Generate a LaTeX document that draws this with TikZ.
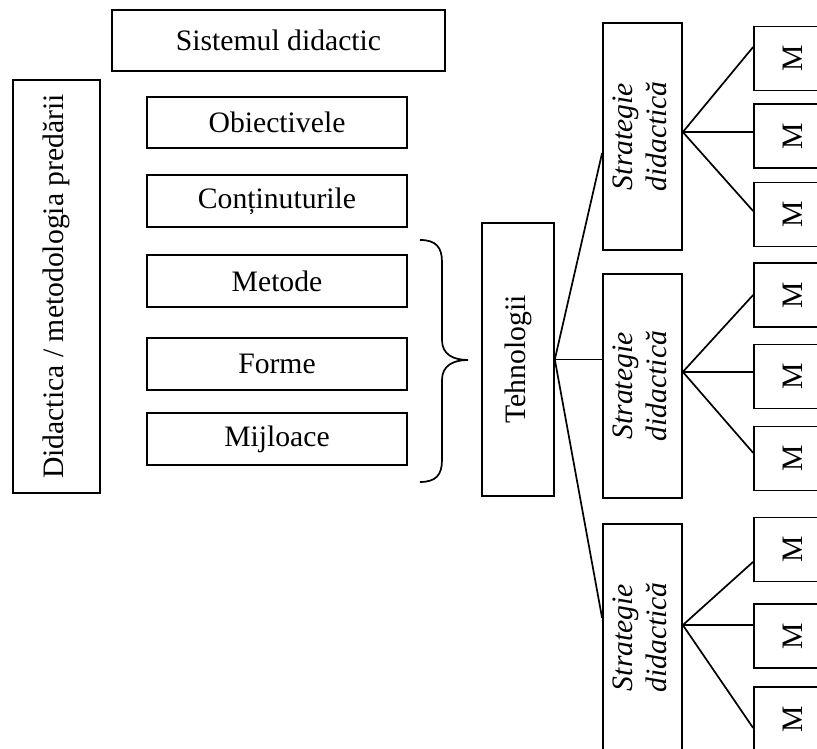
\documentclass[tikz,border=0pt]{standalone}
\usepackage{fontspec}
\setmainfont{Liberation Serif}
\usepackage{tikz}
\newcommand{\vtext}[1]{\rotatebox{90}{#1}}
\newcommand{\vstrat}{\rotatebox{90}{\itshape\begin{tabular}{@{}c@{}}Strategie\\didactică\end{tabular}}}

\begin{document}
\begin{tikzpicture}[font=\fontsize{12.2}{14}\selectfont,
		box/.style={draw, line width=0.7pt, inner sep=0pt, minimum width=3.757cm, minimum height=0.745cm},
		vbox/.style={draw, line width=0.7pt, inner sep=0pt},
		mbox/.style={draw, line width=0.7pt, inner sep=0pt, minimum width=1.127cm, minimum height=0.925cm},
		link/.style={line width=0.7pt}]
			\useasboundingbox (0,0) rectangle (11.806,10.823);
			\node[vbox, minimum width=4.812cm, minimum height=0.881cm] (sist) at (4.024,10.238) {Sistemul didactic};
			\node[vbox, minimum width=1.257cm, minimum height=5.968cm] (did) at (0.816,6.683) {\vtext{Didactica / metodologia predării}};
			\node[box] (obi) at (4.003,9.053) {Obiectivele};
			\node[box] (cont) at (4.003,7.919) {Conținuturile};
			\node[box] (met) at (4.003,6.763) {Metode};
			\node[box] (form) at (4.003,5.563) {Forme};
			\node[box] (mij) at (4.003,4.480) {Mijloace};
			\draw[link] (6.069,7.355) .. controls (6.30,7.355) and (6.387,7.25) .. (6.387,7.037) -- (6.387,5.910) .. controls (6.387,5.70) and (6.55,5.621) .. (6.763,5.621) .. controls (6.55,5.621) and (6.387,5.54) .. (6.387,5.332) -- (6.387,4.176) .. controls (6.387,3.96) and (6.30,3.858) .. (6.069,3.858);
			\node[vbox, minimum width=1.040cm, minimum height=3.945cm] (teh) at (7.485,5.628) {\vtext{Tehnologii}};
			\node[vbox, minimum width=1.142cm, minimum height=3.28cm] (s1) at (9.284,8.851) {\vstrat};
			\node[vbox, minimum width=1.142cm, minimum height=3.237cm] (s2) at (9.284,5.245) {\vstrat};
			\node[vbox, minimum width=1.142cm, minimum height=3.28cm] (s3) at (9.284,1.611) {\vstrat};
			\foreach \n/\y in {m1/9.978, m2/8.858, m3/7.724, m4/6.560, m5/5.383, m6/4.198, m7/2.883, m8/1.633, m9/0.434}
				\node[mbox] (\n) at (11.459,\y) {\vtext{M}};
			\draw[link] (teh.east) -- ([yshift=-6.8pt]s1.west);
			\draw[link] (teh.east) -- (teh.east -| s2.west);
			\draw[link] (teh.east) -- ([yshift=8pt]s3.west);
			\coordinate (f1) at ([yshift=1.8pt]s1.east);
			\coordinate (f2) at ([yshift=5.8pt]s2.east);
			\coordinate (f3) at ([yshift=5.1pt]s3.east);
			\draw[link] (f1) -- ([yshift=4.7pt]m1.west);
			\draw[link] (f1) -- (f1 -| m2.west);
			\draw[link] (f1) -- ([yshift=1.4pt]m3.west);
			\draw[link] (f2) -- (m4.west);
			\draw[link] (f2) -- (f2 -| m5.west);
			\draw[link] (f2) -- ([yshift=2.3pt]m6.west);
			\draw[link] (f3) -- ([yshift=-5.1pt]m7.west);
			\draw[link] (f3) -- (f3 -| m8.west);
			\draw[link] (f3) -- ([yshift=-3.7pt]m9.west);
		\end{tikzpicture}
\end{document}
